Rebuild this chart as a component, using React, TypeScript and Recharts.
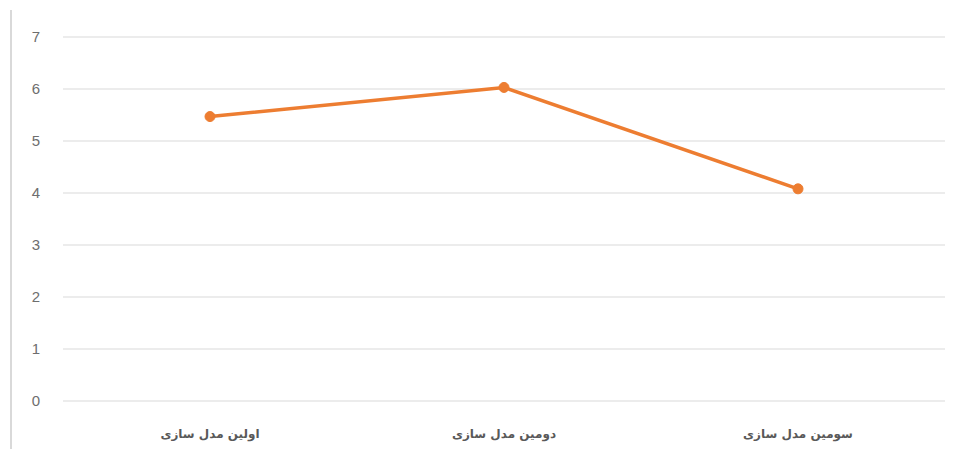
import React from "react";
import { LineChart, Line, XAxis, YAxis, CartesianGrid } from "recharts";

const categories = ["اولین مدل سازی", "دومین مدل سازی", "سومین مدل سازی"];
const values = [5.47, 6.03, 4.08];
const yTicks = [0, 1, 2, 3, 4, 5, 6, 7];

const data = categories.map((c, i) => ({ name: c, value: values[i] }));

export default function App() {
  return (
    <div style={{ position: "relative", width: 960, height: 457, margin: -8, background: "#fff", overflow: "hidden" }}>
      <div style={{ position: "absolute", left: 10, top: 10, width: 2, height: 447, background: "#d9d9d9" }} />
      <div style={{ position: "absolute", left: 0, top: 0 }}>
        <LineChart
          width={960}
          height={457}
          data={data}
          margin={{ top: 37, right: 15, bottom: 0, left: 33 }}
        >
          <CartesianGrid horizontal vertical={false} stroke="#d9d9d9" strokeWidth={1} />
          <XAxis
            dataKey="name"
            height={56}
            padding={{ left: 147, right: 147 }}
            axisLine={false}
            tickLine={false}
            tickSize={0}
            tickMargin={28}
            interval={0}
            tick={{ fill: "#595959", fontSize: 12, fontFamily: "DejaVu Sans, sans-serif", fontWeight: "bold" }}
          />
          <YAxis
            width={30}
            domain={[0, 7]}
            ticks={yTicks}
            axisLine={false}
            tickLine={false}
            tickSize={0}
            tickMargin={23}
            tick={{ fill: "#6e6e6e", fontSize: 15, fontFamily: "Liberation Sans, DejaVu Sans, sans-serif" }}
          />
          <Line
            type="linear"
            dataKey="value"
            stroke="#ED7D31"
            strokeWidth={3.5}
            dot={{ r: 5, fill: "#ED7D31", stroke: "#ED7D31", strokeWidth: 1 }}
            isAnimationActive={false}
          />
        </LineChart>
      </div>
    </div>
  );
}
